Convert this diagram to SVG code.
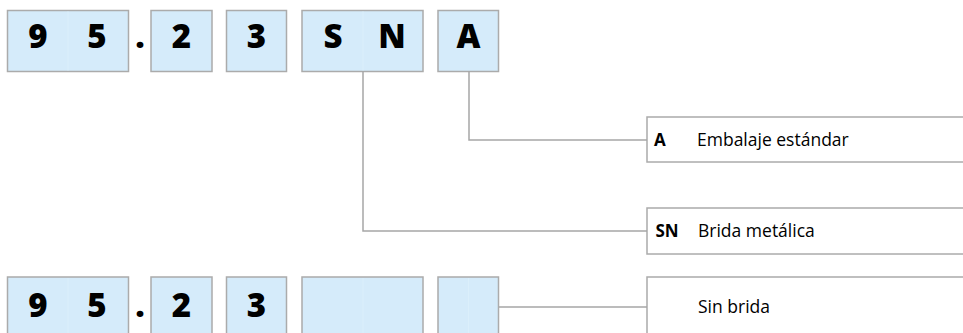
<svg xmlns="http://www.w3.org/2000/svg" width="963" height="333" viewBox="0 0 963 333">
<style>
.cell{fill:#d5ebfa;stroke:#ababab;stroke-width:1.5}
.div{stroke:#dbeffb;stroke-width:1}
.big{font-family:"Open Sans","Liberation Sans",sans-serif;font-weight:800;font-size:33px;fill:#000;text-anchor:middle}
.lbl{fill:#fff;stroke:#ababab;stroke-width:1.5}
.code{font-family:"Open Sans","Liberation Sans",sans-serif;font-weight:bold;font-size:17px;fill:#000}
.txt{font-family:"Open Sans","Liberation Sans",sans-serif;font-size:17.5px;fill:#000}
.wire{fill:none;stroke:#a6a6a6;stroke-width:1.5}
</style>
<rect width="963" height="333" fill="#fff"/>
<g id="top-95">
<rect class="cell" x="7.5" y="10.5" width="121" height="61"/>
<line class="div" x1="68" y1="11.5" x2="68" y2="70.5"/>
<text class="big" x="38" y="48">9</text>
<text class="big" x="97" y="48">5</text>
</g>
<g id="top-dot"><text class="big" x="140" y="48">.</text></g>
<g id="top-2">
<rect class="cell" x="151" y="10.5" width="61" height="61"/>
<text class="big" x="181.5" y="48">2</text>
</g>
<g id="top-3">
<rect class="cell" x="226.5" y="10.5" width="60" height="61"/>
<text class="big" x="256.5" y="48">3</text>
</g>
<g id="top-SN">
<rect class="cell" x="302" y="10.5" width="121" height="61"/>
<line class="div" x1="363" y1="11.5" x2="363" y2="70.5"/>
<text class="big" x="333" y="48">S</text>
<text class="big" x="392" y="48">N</text>
</g>
<g id="top-A">
<rect class="cell" x="438" y="10.5" width="60.5" height="61"/>
<text class="big" x="468.5" y="48">A</text>
</g>
<g id="bottom-95">
<rect class="cell" x="7.5" y="277" width="121" height="61"/>
<line class="div" x1="68" y1="278" x2="68" y2="337"/>
<text class="big" x="38" y="317">9</text>
<text class="big" x="97" y="317">5</text>
</g>
<g id="bottom-dot"><text class="big" x="140" y="317">.</text></g>
<g id="bottom-2">
<rect class="cell" x="151" y="277" width="61" height="61"/>
<text class="big" x="181.5" y="317">2</text>
</g>
<g id="bottom-3">
<rect class="cell" x="226.5" y="277" width="60" height="61"/>
<text class="big" x="256.5" y="317">3</text>
</g>
<g id="bottom-empty1">
<rect class="cell" x="302" y="277" width="121" height="61"/>
<line class="div" x1="363" y1="278" x2="363" y2="337"/>
</g>
<g id="bottom-empty2">
<rect class="cell" x="438" y="277" width="60.5" height="61"/>
<line class="div" x1="468.5" y1="278" x2="468.5" y2="337"/>
</g>
<g id="label-A">
<rect class="lbl" x="647" y="117" width="330" height="45"/>
<text class="code" x="654" y="146">A</text>
<text class="txt" x="697" y="146">Embalaje estándar</text>
</g>
<g id="label-SN">
<rect class="lbl" x="647" y="208" width="330" height="46"/>
<text class="code" x="655.5" y="237">SN</text>
<text class="txt" x="698" y="237">Brida metálica</text>
</g>
<g id="label-none">
<rect class="lbl" x="647" y="277" width="330" height="70"/>
<text class="txt" x="698" y="313">Sin brida</text>
</g>
<g id="connectors">
<polyline class="wire" points="469,71.5 469,140 647,140"/>
<polyline class="wire" points="363,71.5 363,231 647,231"/>
<line class="wire" x1="499" y1="307" x2="647" y2="307"/>
</g>
</svg>
